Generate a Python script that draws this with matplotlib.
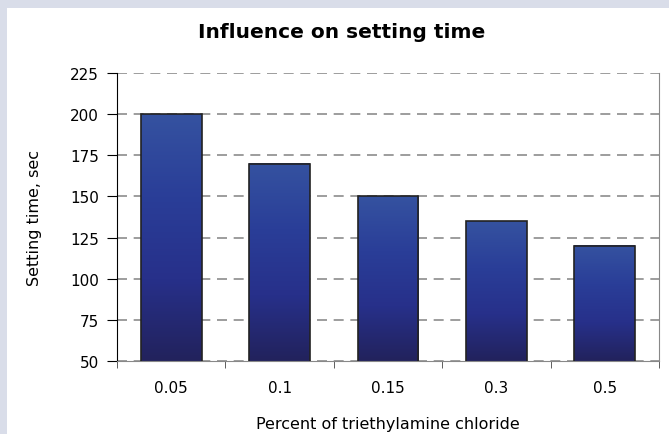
import numpy as np
import matplotlib.pyplot as plt
from matplotlib.colors import LinearSegmentedColormap
from matplotlib.patches import Rectangle

# Data
categories = ['0.05', '0.1', '0.15', '0.3', '0.5']
setting_time = [200, 170, 150, 135, 120]

fig = plt.figure(figsize=(6.69, 4.35), dpi=100)
fig.patch.set_facecolor('white')
# light frame on left and top
fig.patches.append(Rectangle((0, 0), 7 / 669, 1, transform=fig.transFigure,
                             facecolor='#d9dde9', edgecolor='none', zorder=-1))
fig.patches.append(Rectangle((0, 1 - 9 / 435), 1, 9 / 435, transform=fig.transFigure,
                             facecolor='#d9dde9', edgecolor='none', zorder=-1))

ax = fig.add_axes([117 / 669, 73 / 435, 542 / 669, 288 / 435])

cmap = LinearSegmentedColormap.from_list('bar', ['#22225c', '#27308a', '#2a3e98', '#3552a0'])
grad = np.linspace(0, 1, 256).reshape(-1, 1)

x = np.arange(len(categories))
width = 0.56
bars = ax.bar(x, setting_time, width, bottom=0, color='none', edgecolor='#222222',
              linewidth=1.2, zorder=3)
ymin = 50
for b, v in zip(bars, setting_time):
    x0 = b.get_x()
    ax.imshow(grad, cmap=cmap, origin='lower', aspect='auto',
              extent=[x0, x0 + width, ymin, v], zorder=2)

ax.set_xlim(-0.5, len(categories) - 0.5)
ax.set_ylim(50, 225)
ax.set_yticks(range(50, 226, 25))
ax.set_xticks(x)
ax.set_xticklabels(categories, fontsize=11)
ax.set_xticks(np.arange(-0.5, len(categories), 1), minor=True)
ax.tick_params(axis='x', which='major', length=0, pad=14)
ax.tick_params(axis='x', which='minor', length=5, color='#444444')
ax.tick_params(axis='y', labelsize=11, length=7, pad=6)

ax.yaxis.grid(True, linestyle=(0, (6, 4)), color='#8c8c8c', linewidth=1.2)
ax.set_axisbelow(True)
ax.spines['top'].set_visible(False)
ax.spines['left'].set_color('black')
ax.spines['bottom'].set_color('#888888')
ax.spines['right'].set_color('#888888')

ax.set_ylabel('Setting time, sec', fontsize=11.5, labelpad=20)
ax.set_xlabel('Percent of triethylamine chloride', fontsize=11.5, labelpad=15)
fig.text(342 / 669, 1 - 32 / 435, 'Influence on setting time', ha='center', va='center',
         fontsize=14.5, fontweight='bold')

fig.savefig('out.png', dpi=100)
